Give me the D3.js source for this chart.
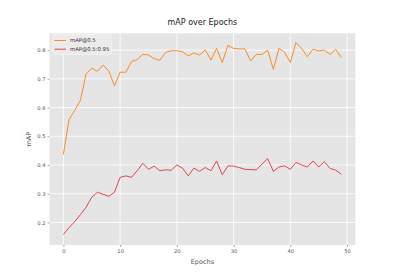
<!DOCTYPE html>
<html><head><meta charset="utf-8">
<script src="https://cdn.jsdelivr.net/npm/d3@7"></script>
<style>body{margin:0;background:#fff;}svg{display:block;font-family:"DejaVu Sans",sans-serif;}</style>
</head><body>
<svg id="c" width="395" height="276"></svg>
<script>
const epochs = d3.range(0, 50);
const map50 = [0.437,0.558,0.590,0.625,0.718,0.737,0.726,0.748,0.727,0.676,0.723,0.723,0.760,0.767,0.785,0.783,0.770,0.765,0.792,0.798,0.798,0.794,0.780,0.790,0.783,0.801,0.765,0.806,0.757,0.816,0.806,0.804,0.804,0.762,0.785,0.785,0.800,0.733,0.806,0.792,0.757,0.826,0.806,0.777,0.803,0.797,0.800,0.785,0.803,0.774];
const map5095 = [0.158,0.182,0.203,0.227,0.253,0.288,0.305,0.298,0.291,0.305,0.357,0.362,0.357,0.380,0.406,0.385,0.396,0.380,0.383,0.382,0.400,0.389,0.362,0.389,0.378,0.391,0.380,0.414,0.366,0.397,0.396,0.391,0.385,0.384,0.383,0.403,0.422,0.378,0.393,0.397,0.385,0.409,0.400,0.393,0.414,0.393,0.412,0.388,0.382,0.368];
const seriesNames = ["mAP@0.5", "mAP@0.5:0.95"];
const xTicks = [0,10,20,30,40,50];
const yTicks = [0.2,0.3,0.4,0.5,0.6,0.7,0.8];

const svg = d3.select("#c");
const L=49.5, R=355.3, T=33.3, B=245;
const x = d3.scaleLinear().domain([-2.45, 51.45]).range([L, R]);
const y = d3.scaleLinear().domain([0.1215, 0.8585]).range([B, T]);

svg.append("rect").attr("x",L).attr("y",T).attr("width",R-L).attr("height",B-T).attr("fill","#e5e5e5");
// grid
svg.append("g").selectAll("line").data(xTicks).join("line")
  .attr("x1",d=>x(d)).attr("x2",d=>x(d)).attr("y1",T).attr("y2",B)
  .attr("stroke","#fff").attr("stroke-width",0.8);
svg.append("g").selectAll("line").data(yTicks).join("line")
  .attr("y1",d=>y(d)).attr("y2",d=>y(d)).attr("x1",L).attr("x2",R)
  .attr("stroke","#fff").attr("stroke-width",0.8);

// axes
const xa = svg.append("g").attr("transform",`translate(0,${B})`)
  .call(d3.axisBottom(x).tickValues(xTicks).tickFormat(d3.format("d")).tickSize(2).tickPadding(2));
const ya = svg.append("g").attr("transform",`translate(${L},0)`)
  .call(d3.axisLeft(y).tickValues(yTicks).tickFormat(d3.format(".1f")).tickSize(2).tickPadding(2));
[xa,ya].forEach(a=>{
  a.select(".domain").remove();
  a.selectAll(".tick line").attr("stroke","#555").attr("stroke-width",0.5);
  a.selectAll(".tick text").attr("fill","#555").style("font-size","5.2px").style("font-family","DejaVu Sans");
});

// lines
const colors = ["#f98c25", "#e0474c"];
const line = d3.line().x((d,i)=>x(epochs[i])).y(d=>y(d));
[map50, map5095].forEach((s,k)=>{
  svg.append("path").datum(s).attr("d",line).attr("fill","none")
    .attr("stroke",colors[k]).attr("stroke-width",1).attr("stroke-linejoin","round");
});

// title & labels
svg.append("text").attr("x",(L+R)/2).attr("y",25).attr("text-anchor","middle")
  .style("font-size","8px").attr("fill","#222").text("mAP over Epochs");
svg.append("text").attr("x",(L+R)/2).attr("y",264).attr("text-anchor","middle")
  .style("font-size","6.5px").attr("fill","#555").text("Epochs");
svg.append("text").attr("transform",`translate(31,${(T+B)/2}) rotate(-90)`).attr("text-anchor","middle")
  .style("font-size","6.5px").attr("fill","#555").text("mAP");

// legend
const lg = svg.append("g");
lg.append("rect").attr("x",52.7).attr("y",34.5).attr("width",59).attr("height",20).attr("rx",1.5)
  .attr("fill","#ebebeb").attr("stroke","#f5f5f5").attr("stroke-width",0.6);
seriesNames.forEach((n,k)=>{
  const yy = 40.5 + k*8.7;
  lg.append("line").attr("x1",54.5).attr("x2",66).attr("y1",yy).attr("y2",yy).attr("stroke",colors[k]).attr("stroke-width",1);
  lg.append("text").attr("x",70).attr("y",yy+1.8).style("font-size","5.3px").attr("fill","#333").text(n);
});
</script>
</body></html>
